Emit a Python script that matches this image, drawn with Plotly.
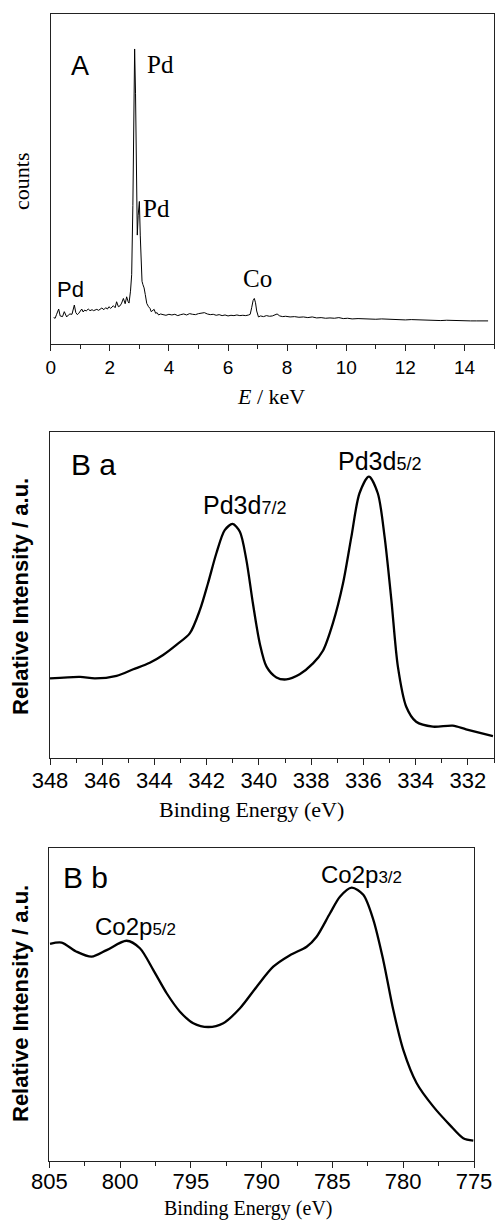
import plotly.graph_objects as go

# ---------------- Panel A: EDX spectrum ----------------
energy_kev = [0.10,0.15,0.20,0.27,0.32,0.40,0.46,0.54,0.60,0.65,0.72,0.80,0.85,0.90,0.95,1.00,1.05,1.10,1.15,1.20,
              1.27,1.33,1.40,1.45,1.50,1.56,1.62,1.68,1.73,1.80,1.86,1.92,1.97,2.03,2.08,2.12,2.18,2.23,2.29,2.35,
              2.40,2.46,2.52,2.57,2.62,2.65,2.70,2.74,2.78,2.81,2.84,2.87,2.90,2.93,2.96,3.00,3.03,3.06,3.09,3.12,
              3.16,3.20,3.25,3.31,3.36,3.40,3.45,3.50,3.55,3.60,3.65,3.72,3.80,3.90,4.00,4.10,4.20,4.30,4.40,4.50,
              4.60,4.70,4.80,4.90,5.00,5.10,5.20,5.30,5.40,5.50,5.60,5.70,5.80,5.90,6.00,6.10,6.20,6.30,6.40,6.50,
              6.60,6.70,6.75,6.80,6.85,6.89,6.93,6.97,7.03,7.10,7.20,7.30,7.40,7.50,7.58,7.66,7.75,7.85,7.95,8.10,
              8.25,8.40,8.55,8.70,8.85,9.00,9.15,9.30,9.45,9.60,9.75,9.90,10.05,10.20,10.40,10.60,10.80,11.00,11.20,11.40,
              11.60,11.80,12.00,12.20,12.40,12.60,12.80,13.00,13.20,13.40,13.60,13.80,14.00,14.20,14.40,14.60,14.80]
counts = [0.080,0.078,0.090,0.106,0.085,0.083,0.098,0.082,0.088,0.091,0.090,0.118,0.095,0.089,0.093,0.098,0.106,0.097,0.103,0.100,
          0.106,0.101,0.104,0.101,0.103,0.105,0.102,0.107,0.109,0.104,0.110,0.106,0.113,0.108,0.114,0.116,0.110,0.128,0.113,0.116,
          0.124,0.138,0.122,0.143,0.128,0.124,0.160,0.210,0.420,0.700,0.894,0.760,0.450,0.330,0.390,0.432,0.330,0.240,0.190,0.180,
          0.170,0.150,0.123,0.113,0.108,0.098,0.102,0.105,0.093,0.095,0.088,0.091,0.089,0.087,0.090,0.088,0.090,0.086,0.089,0.091,
          0.088,0.092,0.090,0.089,0.092,0.093,0.095,0.091,0.089,0.090,0.087,0.089,0.086,0.088,0.085,0.087,0.086,0.088,0.086,0.087,
          0.086,0.088,0.090,0.110,0.132,0.138,0.125,0.100,0.082,0.085,0.083,0.086,0.084,0.085,0.088,0.091,0.085,0.083,0.084,0.082,
          0.083,0.081,0.082,0.080,0.082,0.079,0.080,0.078,0.079,0.078,0.080,0.077,0.078,0.076,0.077,0.076,0.077,0.075,0.076,0.075,
          0.074,0.075,0.073,0.074,0.073,0.072,0.073,0.072,0.071,0.072,0.071,0.070,0.071,0.070,0.070,0.069,0.070]

# ---------------- Panel B a: Pd 3d XPS ----------------
be_pd = [348.0,346.85,346.28,345.45,344.81,344.18,343.67,343.16,342.65,342.26,341.95,341.63,341.31,341.01,340.73,
         340.48,340.23,339.97,339.71,339.33,338.95,338.44,337.93,337.55,337.17,336.78,336.46,336.15,335.79,335.45,
         335.19,334.93,334.68,334.36,333.98,333.34,332.58,332.07,331.04]
int_pd = [0.245,0.250,0.245,0.253,0.273,0.293,0.317,0.348,0.383,0.455,0.537,0.629,0.700,0.719,0.695,
          0.608,0.475,0.353,0.281,0.248,0.242,0.258,0.291,0.330,0.414,0.537,0.680,0.813,0.864,0.813,
          0.680,0.486,0.281,0.158,0.112,0.097,0.100,0.089,0.068]

# ---------------- Panel B b: Co 2p XPS ----------------
be_co = [804.95,804.13,803.07,802.01,800.95,799.54,798.60,797.65,796.71,795.77,794.83,793.77,792.71,791.53,790.35,
         789.18,788.00,786.82,786.12,785.17,784.47,783.64,782.82,782.11,781.41,780.70,779.99,779.05,777.87,776.70,
         775.76,775.05]
int_co = [0.694,0.698,0.669,0.653,0.674,0.704,0.680,0.610,0.536,0.477,0.440,0.428,0.440,0.488,0.557,
          0.621,0.658,0.685,0.717,0.792,0.845,0.874,0.851,0.771,0.642,0.482,0.354,0.248,0.173,0.114,
          0.072,0.064]

W, H = 497, 1220
SANS = "Liberation Sans, Arial, sans-serif"
SERIF = "Liberation Serif, Times New Roman, serif"

def px(x):
    return x / W

def py(y):
    return 1 - y / H

fig = go.Figure()
fig.add_trace(go.Scatter(x=energy_kev, y=counts, mode="lines", line=dict(color="black", width=1),
                         xaxis="x", yaxis="y", showlegend=False))
fig.add_trace(go.Scatter(x=be_pd, y=int_pd, mode="lines", line=dict(color="black", width=2.3, shape="spline", smoothing=0.8),
                         xaxis="x2", yaxis="y2", showlegend=False))
fig.add_trace(go.Scatter(x=be_co, y=int_co, mode="lines", line=dict(color="black", width=2.3, shape="spline", smoothing=0.8),
                         xaxis="x3", yaxis="y3", showlegend=False))

frame = dict(showline=True, mirror=True, linecolor="#222", linewidth=1, showgrid=False, zeroline=False,
             automargin=False)

def xaxis(dom, yanchor, rng, dtick, minor, tick0, fsize, standoff):
    return dict(domain=dom, anchor=yanchor, range=rng, dtick=dtick, tick0=tick0,
                ticks="outside", ticklen=6, tickwidth=1, tickcolor="#222", ticklabelstandoff=standoff,
                minor=dict(ticks="outside", ticklen=4, tickwidth=1, tickcolor="#222", dtick=minor, tick0=tick0),
                tickfont=dict(family=SANS, size=fsize, color="black"), **frame)

def yaxis(dom, xanchor):
    return dict(domain=dom, anchor=xanchor, range=[0, 1], showticklabels=False, ticks="", **frame)

fig.update_layout(
    width=W, height=H, autosize=False,
    margin=dict(l=0, r=0, t=0, b=0, pad=0, autoexpand=False),
    paper_bgcolor="white", plot_bgcolor="white",
    xaxis=xaxis([px(50.7), px(494)], "y", [0, 15], 2, 1, 0, 19, 0),
    yaxis=yaxis([py(344), py(14)], "x"),
    xaxis2=xaxis([px(50), px(494)], "y2", [348, 331], 2, 1, 348, 22, -4),
    yaxis2=yaxis([py(758.3), py(432.3)], "x2"),
    xaxis3=xaxis([px(49.3), px(474)], "y3", [805, 775], 5, 2.5, 805, 22, -5),
    yaxis3=yaxis([py(1160.7), py(848.3)], "x3"),
)

def ann(text, x, y, font, size, angle=0):
    fig.add_annotation(text=text, x=px(x), y=py(y), xref="paper", yref="paper",
                       xanchor="center", yanchor="middle", showarrow=False, textangle=angle,
                       font=dict(family=font, size=size, color="black"))

# Panel A texts
ann("A", 80, 66, SANS, 27)
ann("Pd", 160.3, 64, SERIF, 25)
ann("Pd", 156.7, 209, SERIF, 25)
ann("Pd", 70.3, 290, SANS, 22)
ann("Co", 257, 278, SERIF, 25)
ann("counts", 21, 182, SERIF, 22, angle=-90)
ann("<i>E</i> / keV", 270.8, 397, SERIF, 22)

# Panel B a texts
ann("B a", 93.3, 465, SANS, 30)
ann("Pd3d<span style='font-size:18px'>5/2</span>", 379, 461, SANS, 25)
ann("Pd3d<span style='font-size:18px'>7/2</span>", 244, 505, SANS, 25)
ann("<b>Relative Intensity / a.u.</b>", 20, 597, SANS, 22, angle=-90)
ann("Binding Energy (eV)", 251.7, 809, SERIF, 22)

# Panel B b texts
ann("B b", 85, 877, SANS, 30)
ann("Co2p<span style='font-size:17px'>5/2</span>", 135.5, 926, SANS, 24)
ann("Co2p<span style='font-size:17px'>3/2</span>", 361.7, 874, SANS, 24)
ann("<b>Relative Intensity / a.u.</b>", 20, 1004, SANS, 22, angle=-90)
ann("Binding Energy (eV)", 248.3, 1208, SERIF, 20)

fig.write_html(
    "out.html",
    config={"displayModeBar": False},
    post_script="document.body.style.margin='0';document.body.style.overflow='hidden';"
                "document.documentElement.style.overflow='hidden';",
)
